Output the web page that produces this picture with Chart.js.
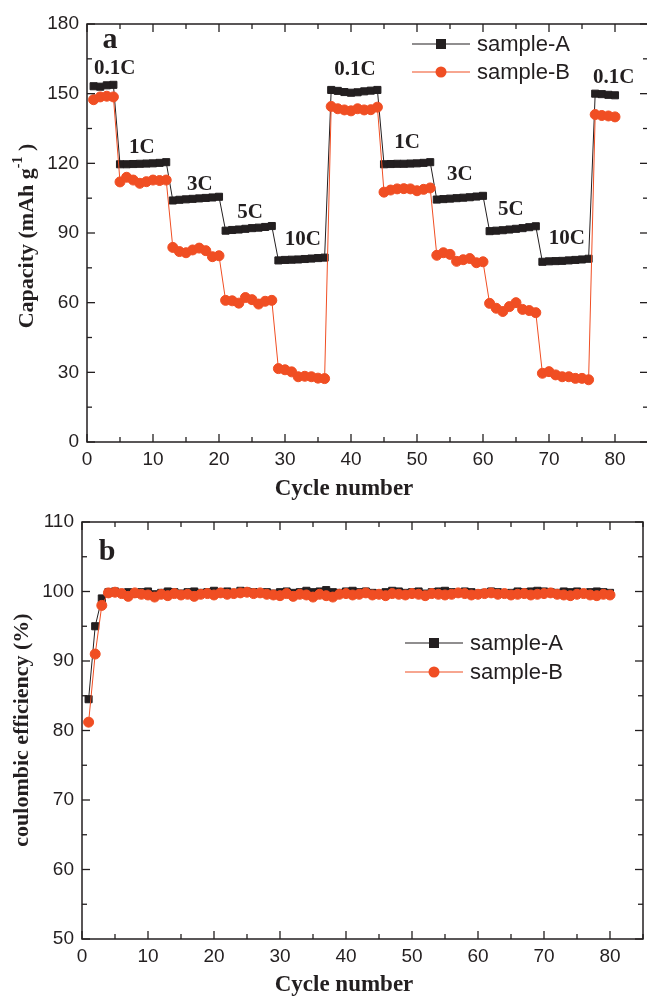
<!DOCTYPE html>
<html>
<head>
<meta charset="utf-8">
<script src="https://cdn.jsdelivr.net/npm/chart.js@4.4.1/dist/chart.umd.min.js"></script>
<style>
  html,body{margin:0;padding:0;background:#fff;overflow:hidden;width:647px;height:996px;}
  .panel{position:absolute;left:0;}
</style>
</head>
<body>
<div class="panel" style="top:0"><canvas id="cap" width="654" height="500"></canvas></div>
<div class="panel" style="top:496px"><canvas id="ce" width="649" height="500"></canvas></div>
<script>
// cycle numbers (x categories)
const cycles=[1,2,3,4,5,6,7,8,9,10,11,12,13,14,15,16,17,18,19,20,
  21,22,23,24,25,26,27,28,29,30,31,32,33,34,35,36,37,38,39,40,
  41,42,43,44,45,46,47,48,49,50,51,52,53,54,55,56,57,58,59,60,
  61,62,63,64,65,66,67,68,69,70,71,72,73,74,75,76,77,78,79,80];
const xTicks=[0,10,20,30,40,50,60,70,80];

// (a) discharge capacity, mAh/g
const capA=[153.2,153.0,153.6,153.8,
  119.6,119.6,119.7,119.8,119.9,120.0,120.2,120.5,
  104.0,104.3,104.5,104.7,104.9,105.1,105.3,105.6,
  91.0,91.3,91.5,91.8,92.1,92.3,92.6,93.0,
  78.2,78.4,78.5,78.6,78.8,79.0,79.2,79.4,
  151.6,151.2,150.7,150.4,150.6,151.0,151.3,151.6,
  119.6,119.7,119.8,119.8,119.9,120.0,120.2,120.5,
  104.4,104.6,104.8,105.0,105.2,105.4,105.7,106.0,
  90.8,91.0,91.2,91.5,91.8,92.1,92.5,92.9,
  77.6,77.8,77.9,78.0,78.2,78.4,78.6,78.9,
  150.0,149.8,149.5,149.3];
const capB=[147.4,148.6,148.9,148.6,
  112.0,114.0,112.8,111.4,112.1,112.8,112.6,112.8,
  83.8,82.0,81.5,82.7,83.5,82.4,79.8,80.2,
  61.0,60.8,59.8,62.2,61.3,59.4,60.6,61.0,
  31.6,31.1,30.2,28.1,28.3,28.1,27.5,27.3,
  144.5,143.5,143.0,142.6,143.5,143.0,143.1,144.2,
  107.6,108.5,109.0,109.1,109.0,108.2,108.8,109.4,
  80.4,81.5,80.8,77.8,78.5,79.0,77.2,77.6,
  59.7,57.6,56.2,58.3,60.0,57.1,56.6,55.7,
  29.6,30.3,28.9,28.1,28.1,27.4,27.4,26.8,
  141.0,140.6,140.4,140.0];

// (b) coulombic efficiency, %
const ceA=[84.5,95.0,99.0,99.9,100.0,99.8,99.9,99.7,99.9,100.0,
  99.6,99.8,100.0,99.9,99.7,99.9,100.0,99.8,99.9,100.1,
  99.9,100.0,99.8,100.1,100.0,99.9,99.8,99.9,99.7,99.9,
  100.0,99.8,99.9,100.1,99.9,100.0,100.2,99.9,99.8,100.0,
  100.1,99.9,100.0,99.8,99.7,99.9,100.1,100.0,99.8,99.9,
  100.0,99.7,99.9,100.0,100.1,99.9,99.8,100.0,99.9,99.7,
  99.8,100.0,99.9,99.7,99.8,100.0,99.9,100.0,100.1,100.0,
  99.9,99.8,100.0,99.9,100.0,99.8,99.9,100.0,99.9,99.8];
const ceB=[81.2,91.0,98.0,99.8,99.9,99.7,99.3,99.8,99.6,99.5,
  99.2,99.6,99.4,99.7,99.5,99.6,99.3,99.6,99.7,99.5,
  99.8,99.6,99.7,99.8,99.9,99.7,99.8,99.6,99.5,99.4,
  99.7,99.3,99.6,99.5,99.2,99.6,99.4,99.2,99.6,99.7,
  99.5,99.6,99.8,99.5,99.6,99.4,99.7,99.6,99.5,99.7,
  99.6,99.4,99.7,99.6,99.5,99.6,99.8,99.7,99.5,99.6,
  99.7,99.8,99.6,99.7,99.5,99.6,99.7,99.5,99.6,99.7,
  99.8,99.6,99.5,99.4,99.6,99.7,99.5,99.4,99.6,99.5];

const seriesNames=['sample-A','sample-B'];
// rate labels placed at (cycle, capacity)
const rateLabels=[
  ['0.1C',4.2,160.6],['1C',8.3,126.6],['3C',17.1,110.7],['5C',24.7,99],['10C',32.7,87],
  ['0.1C',40.6,160.2],['1C',48.5,128.8],['3C',56.5,115],['5C',64.2,100],['10C',72.7,87.8],
  ['0.1C',79.8,157]];

const INK='#231f20', RED='#f04e23';
const SANS='"Liberation Sans", Arial, sans-serif';
const SERIF='"Liberation Serif", "Times New Roman", serif';

const xy=(ys)=>cycles.map((c,i)=>({x:c,y:ys[i]}));

function ln(ctx,x1,y1,x2,y2){ctx.beginPath();ctx.moveTo(x1,y1);ctx.lineTo(x2,y2);ctx.stroke();}

// box, inward ticks, titles, legend, panel letter
const deco={
  id:'deco',
  afterDraw(chart,args,o){
    const {ctx,chartArea:a,scales:{x,y}}=chart;
    ctx.save();
    ctx.strokeStyle=INK; ctx.fillStyle=INK;
    ctx.lineWidth=1.5;
    ctx.strokeRect(a.left,a.top,a.right-a.left,a.bottom-a.top);
    ctx.lineWidth=1.3;
    for(let v=0;v<=x.max;v+=5){
      const px=x.getPixelForValue(v), len=v%10===0?8:5;
      ln(ctx,px,a.bottom,px,a.bottom-len); ln(ctx,px,a.top,px,a.top+len);
    }
    for(let v=y.min;v<=y.max;v+=o.yMinor){
      const py=y.getPixelForValue(v), len=Math.round((v-y.min)/o.yMinor)%2===0?8:5;
      ln(ctx,a.left,py,a.left+len,py); ln(ctx,a.right,py,a.right-len,py);
    }
    // panel letter
    ctx.font='bold 30px '+SERIF; ctx.textAlign='center'; ctx.textBaseline='middle';
    ctx.fillText(o.letter,a.left+o.letterPos[0],a.top+o.letterPos[1]);
    // x title
    ctx.font='bold 23px '+SERIF;
    ctx.fillText('Cycle number',o.xTitle[0],o.xTitle[1]);
    // y title
    ctx.save();
    ctx.translate(o.yTitle[0],o.yTitle[1]); ctx.rotate(-Math.PI/2);
    ctx.font='bold 22px '+SERIF; ctx.textBaseline='middle';
    if(o.sup){
      const p1=o.yText, p2=o.sup, p3=' )';
      const w1=ctx.measureText(p1).width, w3=ctx.measureText(p3).width;
      ctx.font='bold 14px '+SERIF; const w2=ctx.measureText(p2).width;
      let sx=-(w1+w2+w3)/2;
      ctx.font='bold 22px '+SERIF; ctx.textAlign='left';
      ctx.fillText(p1,sx,0); sx+=w1;
      ctx.font='bold 14px '+SERIF; ctx.fillText(p2,sx,-9); sx+=w2;
      ctx.font='bold 22px '+SERIF; ctx.fillText(p3,sx,0);
    } else {
      ctx.textAlign='center'; ctx.fillText(o.yText,0,0);
    }
    ctx.restore();
    // legend
    const L=o.legend;
    chart.data.datasets.forEach((ds,i)=>{
      const yy=a.top+L.y[i], x0=a.left+L.x, x1=x0+58, mx=(x0+x1)/2;
      ctx.strokeStyle=ds.borderColor; ctx.fillStyle=ds.backgroundColor; ctx.lineWidth=1.2;
      ln(ctx,x0,yy,x1,yy);
      if(ds.pointStyle==='rect'){ctx.fillRect(mx-5,yy-5,10,10);}
      else {ctx.beginPath();ctx.arc(mx,yy,5.5,0,Math.PI*2);ctx.fill();}
      ctx.fillStyle=INK; ctx.font='22px '+SANS; ctx.textAlign='left'; ctx.textBaseline='middle';
      ctx.fillText(ds.label,x1+7,yy+1);
    });
    // rate labels
    if(o.rates){
      ctx.font='bold 21px '+SERIF; ctx.textAlign='center'; ctx.textBaseline='middle'; ctx.fillStyle=INK;
      o.rates.forEach(([t,cx,cy])=>ctx.fillText(t,x.getPixelForValue(cx),y.getPixelForValue(cy)));
    }
    ctx.restore();
  }
};

function makeChart(id,dsA,dsB,yMin,yMax,yStep,geom,decoOpts){
  return new Chart(document.getElementById(id),{
    type:'scatter',
    data:{datasets:[
      {label:seriesNames[0],data:xy(dsA),showLine:true,borderColor:INK,backgroundColor:INK,borderWidth:1,
       pointStyle:'rect',pointRadius:5,pointHoverRadius:5,order:2},
      {label:seriesNames[1],data:xy(dsB),showLine:true,borderColor:RED,backgroundColor:RED,borderWidth:1,
       pointStyle:'circle',pointRadius:5,pointHoverRadius:5,order:1}
    ]},
    options:{
      responsive:false,animation:false,
      layout:{padding:{top:geom.top,right:geom.right,left:0,bottom:0}},
      plugins:{legend:{display:false},tooltip:{enabled:false},deco:decoOpts},
      scales:{
        x:{type:'linear',min:0,max:85,
          grid:{display:false,drawTicks:false},border:{display:false},
          afterBuildTicks:s=>{s.ticks=xTicks.map(v=>({value:v}));},
          afterFit:s=>{s.height=geom.xh;},
          ticks:{stepSize:10,padding:6,color:INK,autoSkip:false,maxRotation:0,font:{family:SANS,size:19}}},
        y:{type:'linear',min:yMin,max:yMax,
          grid:{display:false,drawTicks:false},border:{display:false},
          afterFit:s=>{s.width=geom.yw;},
          ticks:{stepSize:yStep,padding:8,color:INK,font:{family:SANS,size:19}}}
      }
    },
    plugins:[deco]
  });
}

makeChart('cap',capA,capB,0,180,30,{top:24,right:2,xh:58,yw:87},
  {yMinor:15,letter:'a',letterPos:[23,16],xTitle:[344,489],yTitle:[27,236],
   yText:'Capacity (mAh g',sup:'-1',legend:{x:325,y:[20,48]},rates:rateLabels});
makeChart('ce',ceA,ceB,50,110,10,{top:26,right:4,xh:57,yw:82},
  {yMinor:5,letter:'b',letterPos:[25,30],xTitle:[344,489],yTitle:[22,234],
   yText:'coulombic efficiency (%)',legend:{x:323,y:[121,150]}});
</script>
</body>
</html>
